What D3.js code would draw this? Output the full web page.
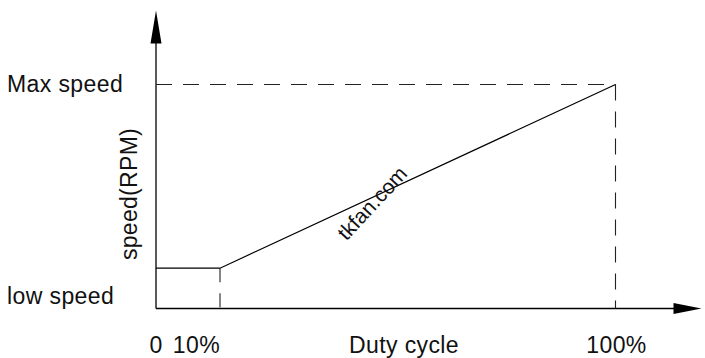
<!DOCTYPE html>
<html><head><meta charset="utf-8">
<script src="https://cdn.jsdelivr.net/npm/d3@7"></script>
<style>body{margin:0;background:#fff}svg{display:block}text{font-family:"Liberation Sans",Arial,sans-serif;fill:#111}</style>
</head><body><div id="c"></div>
<script>
// Data (duty cycle % -> speed, % of max speed)
const dutyCycle = [0, 10, 100];
const speedPct = [18, 18, 100];
const xTickValues = [0, 10, 100];
const xTickLabels = ["0", "10%", "100%"];
const yLevelValues = [18, 100];
const yLevelLabels = ["low speed", "Max speed"];
const xTitle = "Duty cycle";
const yTitle = "speed(RPM)";
const watermark = "tkfan.com";

const W = 705, H = 358;
const svg = d3.select("#c").append("svg").attr("width", W).attr("height", H);

// diagram-style (non-uniform) x scale, linear y scale
const x = d3.scaleLinear().domain([0, 10, 100]).range([156, 220, 615.5]);
const y = d3.scaleLinear().domain([0, 100]).range([308.5, 84.5]);

const axisTop = y(133), axisRight = x(100) + 86;

// axes
svg.append("line").attr("x1", x(0)).attr("x2", axisRight - 26).attr("y1", y(0)).attr("y2", y(0))
  .attr("stroke", "#000").attr("stroke-width", 1.3);
svg.append("line").attr("x1", x(0)).attr("x2", x(0)).attr("y1", y(0)).attr("y2", axisTop + 30)
  .attr("stroke", "#000").attr("stroke-width", 1.3);
// arrowheads
svg.append("path").attr("d", `M${axisRight},${y(0)} L${axisRight-28},${y(0)-5.5} L${axisRight-28},${y(0)+5.5} Z`).attr("fill", "#000");
svg.append("path").attr("d", `M${x(0)},${axisTop} L${x(0)-5.5},${axisTop+33} L${x(0)+5.5},${axisTop+33} Z`).attr("fill", "#000");

// dashed guides
const dashStyle = (sel) => sel.attr("stroke", "#222").attr("stroke-width", 1.1).attr("fill", "none");
dashStyle(svg.append("line").attr("x1", x(0)).attr("x2", x(100)).attr("y1", y(100)).attr("y2", y(100))).attr("stroke-dasharray", "16,11");
dashStyle(svg.append("line").attr("x1", x(100)).attr("x2", x(100)).attr("y1", y(100)).attr("y2", y(0))).attr("stroke-dasharray", "16,11");
dashStyle(svg.append("line").attr("x1", x(10)).attr("x2", x(10)).attr("y1", y(18)).attr("y2", y(0))).attr("stroke-dasharray", "14,11");

// speed curve
const line = d3.line().x((d, i) => x(dutyCycle[i])).y((d, i) => y(speedPct[i]));
svg.append("path").datum(dutyCycle).attr("d", line).attr("fill", "none").attr("stroke", "#000").attr("stroke-width", 1.2);

// labels
const fs = 23, ls = 0.4;
svg.selectAll(".ylab").data(yLevelValues).join("text").attr("class", "ylab")
  .attr("x", 7).attr("y", (d, i) => y(d) + (i === 0 ? 36 : 7.5))
  .attr("font-size", fs).attr("letter-spacing", ls).text((d, i) => yLevelLabels[i]);

svg.append("text").attr("x", x(0)).attr("y", 353).attr("text-anchor", "middle").attr("font-size", fs).text(xTickLabels[0]);
svg.append("text").attr("x", x(10)).attr("y", 353).attr("text-anchor", "end").attr("font-size", fs).attr("letter-spacing", ls).text(xTickLabels[1]);
svg.append("text").attr("x", x(100) + 1).attr("y", 353).attr("text-anchor", "middle").attr("font-size", fs).attr("letter-spacing", ls).text(xTickLabels[2]);

svg.append("text").attr("x", 404).attr("y", 353).attr("text-anchor", "middle").attr("font-size", fs).attr("letter-spacing", ls).text(xTitle);
svg.append("text").attr("transform", `translate(137,194) rotate(-90)`).attr("text-anchor", "middle")
  .attr("font-size", fs).attr("letter-spacing", 0.3).text(yTitle);

svg.append("text").attr("transform", `translate(372,203) rotate(-47)`).attr("text-anchor", "middle")
  .attr("dominant-baseline", "central").attr("font-size", 21).text(watermark);
</script></body></html>
